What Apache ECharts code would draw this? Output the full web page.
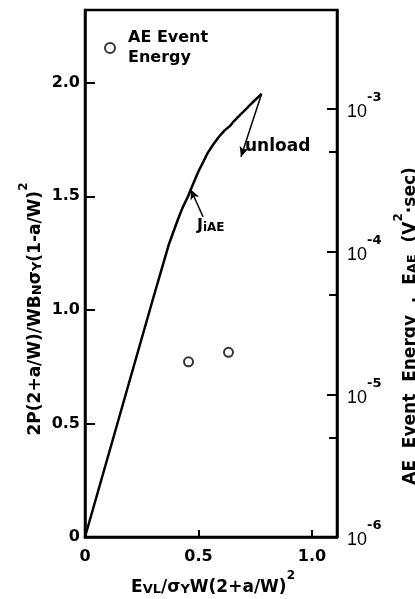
<!DOCTYPE html>
<html>
<head>
<meta charset="utf-8">
<script src="https://cdn.jsdelivr.net/npm/echarts@6/dist/echarts.min.js"></script>
<style>html,body{margin:0;padding:0;background:#fff}#c{width:415px;height:599px}</style>
</head>
<body>
<div id="c"></div>
<script>
// J-integral curve (left axis)
const curveX = [0, 0.10, 0.20, 0.30, 0.37, 0.39, 0.41, 0.43, 0.454, 0.47, 0.485, 0.50, 0.52, 0.54, 0.564, 0.59, 0.615, 0.639, 0.652, 0.68, 0.71, 0.74, 0.778];
const curveY = [0, 0.35, 0.70, 1.05, 1.29, 1.345, 1.40, 1.45, 1.50, 1.54, 1.575, 1.61, 1.65, 1.69, 1.727, 1.762, 1.79, 1.81, 1.826, 1.855, 1.885, 1.915, 1.951];
// AE event energy (right axis, V^2.sec)
const aeX = [0.456, 0.632];
const aeEnergy = [1.69e-5, 1.97e-5];
// ticks
const xTicks = [0, 0.5, 1.0];
const yTicks = [0, 0.5, 1.0, 1.5, 2.0];
const eDecades = [1e-6, 1e-5, 1e-4, 1e-3];
const eMinor = [5e-6, 5e-5, 5e-4];
// annotation arrows (data coords)
const unloadArrow = [[0.778, 1.951], [0.687, 1.674]];
const jArrow = [[0.52, 1.41], [0.466, 1.53]];

const FONT = 'DejaVu Sans';
const chart = echarts.init(document.getElementById('c'));
const lg = v => Math.log10(v);
const eMin = -6, eMax = -2.306;

const rightLabelVals = eDecades.map(lg);
const richName = (big, small, sup) => ({
  n: {fontFamily: FONT, fontWeight: 'bold', fontSize: big, fill: '#000', verticalAlign: 'bottom', lineHeight: 26},
  s: {fontFamily: FONT, fontWeight: 'bold', fontSize: small, fill: '#000', verticalAlign: 'bottom', lineHeight: 26},
  p: {fontFamily: FONT, fontWeight: 'bold', fontSize: sup, fill: '#000', verticalAlign: 'top', lineHeight: 26}
});
const option = {
  animation: false,
  backgroundColor: '#fff',
  grid: {left: 85, right: 78, top: 10, bottom: 62, show: true, borderColor: '#000', borderWidth: 2.5},
  legend: {
    data: ['AE Event\nEnergy'], left: 99, top: 23, itemWidth: 10, itemHeight: 10,
    icon: 'circle',
    itemStyle: {color: '#fff', borderColor: '#000', borderWidth: 2},
    textStyle: {fontFamily: FONT, fontWeight: 'bold', fontSize: 16, color: '#000', lineHeight: 20, padding: [0,0,0,8]}
  },
  xAxis: {
    type: 'value', min: 0, max: 1.11,
    axisLine: {lineStyle: {color: '#000', width: 2.5}},
    axisTick: {inside: true, length: 7, lineStyle: {color: '#000', width: 2}, customValues: xTicks.filter(v => v > 0)},
    axisLabel: {customValues: xTicks, margin: 12, fontFamily: FONT, fontWeight: 'bold', fontSize: 16, color: '#000',
      formatter: v => v === 0 ? '0' : v.toFixed(1)},
    splitLine: {show: false}
  },
  yAxis: [
    {
      type: 'value', min: 0, max: 2.32, position: 'left',
      axisLine: {show: true, lineStyle: {color: '#000', width: 2.5}},
      axisTick: {show: true, inside: true, length: 10, lineStyle: {color: '#000', width: 2}, customValues: yTicks.filter(v => v > 0)},
      axisLabel: {customValues: yTicks, margin: 5, fontFamily: FONT, fontWeight: 'bold', fontSize: 16, color: '#000',
        formatter: v => v === 0 ? '0' : v.toFixed(1)},
      splitLine: {show: false}
    },
    {
      type: 'value', min: eMin, max: eMax, position: 'right',
      axisLine: {show: true, lineStyle: {color: '#000', width: 2.5}},
      axisTick: {show: true, inside: true, length: 10, lineStyle: {color: '#000', width: 2}, customValues: rightLabelVals.slice(1)},
      axisLabel: {customValues: rightLabelVals, margin: 10, color: '#000', padding: [0, 0, 5, 0],
        formatter: v => '{b|10}{s|' + Math.round(v) + '}',
        rich: {
          b: {fontFamily: 'Liberation Sans', fontSize: 18, color: '#000', verticalAlign: 'bottom', lineHeight: 30},
          s: {fontFamily: FONT, fontSize: 13, fontWeight: 'bold', color: '#000', verticalAlign: 'top', lineHeight: 14}
        }},
      splitLine: {show: false}
    },
    {
      type: 'value', min: eMin, max: eMax, position: 'right',
      axisLine: {show: false},
      axisTick: {show: true, inside: true, length: 8, lineStyle: {color: '#000', width: 2}, customValues: eMinor.map(lg)},
      axisLabel: {show: false},
      splitLine: {show: false}
    }
  ],
  series: [
    {
      type: 'line', name: 'J', xAxisIndex: 0, yAxisIndex: 0, symbol: 'none',
      lineStyle: {color: '#000', width: 2.5, join: 'round'},
      data: curveX.map((x, i) => [x, curveY[i]]),
      markLine: {
        silent: true, symbol: ['none', 'arrow'], symbolSize: [7, 10],
        label: {show: false},
        lineStyle: {color: '#000', width: 1.5, type: 'solid'},
        data: [
          [{coord: unloadArrow[0]}, {coord: unloadArrow[1]}],
          [{coord: jArrow[0], lineStyle: {curveness: -0.2}}, {coord: jArrow[1]}]
        ]
      }
    },
    {
      type: 'scatter', name: 'AE Event\nEnergy', xAxisIndex: 0, yAxisIndex: 1,
      symbol: 'circle', symbolSize: 9,
      itemStyle: {color: '#fff', borderColor: '#000', borderWidth: 2},
      data: aeX.map((x, i) => [x, lg(aeEnergy[i])])
    }
  ],
  graphic: [
    {type: 'text', left: 245, top: 138, style: {text: 'unload', fontFamily: FONT, fontWeight: 'bold', fontSize: 17, fill: '#000'}},
    {type: 'text', left: 197, top: 218, style: {text: '{a|J}{b|iAE}', rich: {
      a: {fontFamily: FONT, fontWeight: 'bold', fontSize: 16, fill: '#000', verticalAlign: 'bottom', lineHeight: 18},
      b: {fontFamily: FONT, fontWeight: 'bold', fontSize: 12, fill: '#000', verticalAlign: 'bottom', lineHeight: 18}}}},
    {type: 'text', x: 31, y: 309, rotation: Math.PI / 2, style: {
      text: '{n|2P(2+a/W)/WB}{s|N}{n|σ}{s|Y}{n|(1-a/W)}{p|2}', align: 'center', verticalAlign: 'middle',
      rich: richName(17, 13, 12)}},
    {type: 'text', x: 406, y: 326, rotation: Math.PI / 2, style: {
      text: '{n|AE  Event  Energy  ,  E}{s|AE}{n|  (V}{p|2}{n|·sec)}', align: 'center', verticalAlign: 'middle',
      rich: richName(17, 13, 12)}},
    {type: 'text', x: 213, y: 583, style: {
      text: '{n|E}{s|VL}{n|/σ}{s|Y}{n|W(2+a/W)}{p|2}', align: 'center', verticalAlign: 'middle',
      rich: richName(17, 13, 12)}}
  ]
};
chart.setOption(option);
</script>
</body>
</html>
